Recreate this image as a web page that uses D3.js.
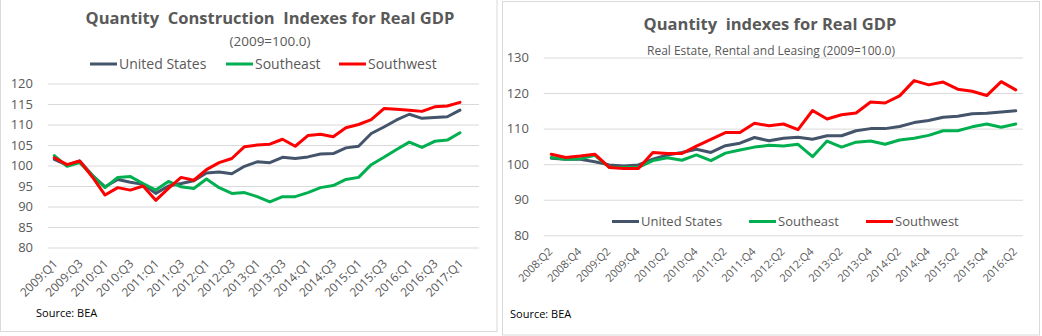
<!DOCTYPE html>
<html lang="en">
<head>
<meta charset="utf-8">
<title>Quantity indexes for Real GDP</title>
<script src="https://d3js.org/d3.v7.min.js"></script>
<style>
  body { margin: 0; background: #fff; }
  svg { font-family: "Open Sans", sans-serif; display: block; }
  .title { white-space: pre; }
</style>
</head>
<body>
<svg id="chart" width="1042" height="336"></svg>
<script>
// ---- data ----
var seriesNames = ["United States", "Southeast", "Southwest"];
var seriesColors = ["#44546A", "#00B050", "#FF0000"];

// left panel: construction, 2009:Q1 .. 2017:Q2 (last category empty)
var constQuarters = ["2009:Q1","2009:Q2","2009:Q3","2009:Q4","2010:Q1","2010:Q2","2010:Q3","2010:Q4",
  "2011:Q1","2011:Q2","2011:Q3","2011:Q4","2012:Q1","2012:Q2","2012:Q3","2012:Q4",
  "2013:Q1","2013:Q2","2013:Q3","2013:Q4","2014:Q1","2014:Q2","2014:Q3","2014:Q4",
  "2015:Q1","2015:Q2","2015:Q3","2015:Q4","2016:Q1","2016:Q2","2016:Q3","2016:Q4",
  "2017:Q1","2017:Q2"];
var constUS = [101.5,100.1,101.1,97.6,94.8,96.6,95.9,95.4,93.2,95.0,95.6,96.3,98.2,98.4,98.0,99.8,
  100.9,100.7,102.0,101.7,102.1,102.8,102.9,104.3,104.7,107.8,109.4,111.1,112.5,111.5,111.7,111.9,113.5];
var constSE = [102.4,99.8,100.7,97.6,94.6,97.1,97.3,95.6,94.0,96.1,94.8,94.4,96.7,94.6,93.2,93.4,
  92.4,91.1,92.4,92.4,93.4,94.6,95.1,96.6,97.1,100.2,102.0,103.9,105.7,104.4,105.9,106.2,108.0];
var constSW = [101.9,100.2,101.1,97.2,92.8,94.6,94.0,95.0,91.5,94.4,97.1,96.4,99.0,100.7,101.7,104.6,
  105.0,105.2,106.4,104.7,107.3,107.6,107.0,109.2,110.0,111.2,113.9,113.7,113.5,113.2,114.3,114.5,115.4];
var constTicks = [80, 85, 90, 95, 100, 105, 110, 115, 120];

// right panel: real estate, rental and leasing, 2008:Q2 .. 2016:Q2
var reQuarters = ["2008:Q2","2008:Q3","2008:Q4","2009:Q1","2009:Q2","2009:Q3","2009:Q4","2010:Q1",
  "2010:Q2","2010:Q3","2010:Q4","2011:Q1","2011:Q2","2011:Q3","2011:Q4","2012:Q1",
  "2012:Q2","2012:Q3","2012:Q4","2013:Q1","2013:Q2","2013:Q3","2013:Q4","2014:Q1",
  "2014:Q2","2014:Q3","2014:Q4","2015:Q1","2015:Q2","2015:Q3","2015:Q4","2016:Q1","2016:Q2"];
var reUS = [101.7,101.4,101.4,100.7,99.8,99.5,99.8,101.4,102.6,103.3,104.2,103.3,105.2,105.9,107.5,106.6,
  107.3,107.6,107.0,108.0,108.0,109.4,110.0,110.0,110.6,111.7,112.3,113.2,113.5,114.2,114.3,114.7,115.0];
var reSE = [101.9,101.4,101.5,102.5,99.1,99.1,99.1,101.0,101.8,101.1,102.6,101.0,103.1,104.0,104.8,105.3,
  105.1,105.6,102.1,106.5,104.8,106.2,106.5,105.6,106.8,107.3,108.1,109.4,109.4,110.5,111.3,110.4,111.3];
var reSW = [102.8,101.9,102.3,102.8,99.1,98.8,98.8,103.3,103.0,103.0,105.1,107.0,108.9,108.9,111.5,110.8,
  111.3,109.7,115.1,112.7,113.9,114.4,117.5,117.2,119.2,123.5,122.3,123.1,121.1,120.5,119.3,123.2,120.9];
var reTicks = [80, 90, 100, 110, 120, 130];

var svg = d3.select("#chart");
var textColor = "#595959";
var gridColor = "#D9D9D9";

// panel frames
svg.append("rect").attr("x", 0.5).attr("y", -2).attr("width", 496.5).attr("height", 333.5)
  .attr("fill", "none").attr("stroke", gridColor);
svg.append("rect").attr("x", 502.5).attr("y", 1.5).attr("width", 537).attr("height", 333.5)
  .attr("fill", "none").attr("stroke", gridColor);

function drawPanel(cfg) {
  var g = svg.append("g");

  var x = d3.scaleBand()
    .domain(cfg.quarters)
    .range([cfg.left, cfg.right])
    .padding(0);

  var y = d3.scaleLinear()
    .domain([cfg.ticks[0], cfg.ticks[cfg.ticks.length - 1]])
    .range([cfg.bottom, cfg.top]);

  // gridlines + y labels
  var yAxis = g.append("g")
    .attr("transform", "translate(" + cfg.left + ",0)")
    .call(d3.axisLeft(y).tickValues(cfg.ticks)
      .tickSizeInner(-(cfg.right - cfg.left)).tickSizeOuter(0).tickPadding(15));
  yAxis.select(".domain").remove();
  yAxis.selectAll("line").attr("stroke", gridColor);
  yAxis.selectAll("text")
    .attr("fill", textColor)
    .style("font-size", "13px")
    .style("font-family", "'Open Sans', sans-serif");

  // x labels, every second quarter, rotated
  var xAxis = g.append("g")
    .attr("transform", "translate(0," + cfg.bottom + ")")
    .call(d3.axisBottom(x)
      .tickValues(cfg.quarters.filter(function (d, i) { return i % 2 == 0; }))
      .tickSize(0));
  xAxis.select(".domain").remove();
  xAxis.selectAll("text")
    .attr("fill", textColor)
    .attr("y", 0).attr("dy", 0)
    .attr("text-anchor", "end")
    .attr("transform", "translate(" + cfg.labelDx + "," + cfg.labelDy + ") rotate(-45)")
    .style("font-size", cfg.labelSize)
    .style("font-family", "'Open Sans', sans-serif");

  // lines
  var line = d3.line()
    .x(function (d, i) { return x(cfg.quarters[i]) + x.bandwidth() / 2; })
    .y(function (d) { return y(d); });

  cfg.series.forEach(function (vals, k) {
    g.append("path")
      .datum(vals)
      .attr("fill", "none")
      .attr("stroke", seriesColors[k])
      .attr("stroke-width", 3)
      .attr("stroke-linejoin", "round")
      .attr("stroke-linecap", "round")
      .attr("d", line);
  });

  // titles
  g.append("text")
    .attr("class", "title")
    .attr("x", cfg.titleX).attr("y", cfg.titleY)
    .attr("text-anchor", "middle")
    .attr("fill", textColor)
    .style("font-size", "16.5px")
    .style("font-weight", "bold")
    .text(cfg.title);
  g.append("text")
    .attr("x", cfg.subX).attr("y", cfg.subY)
    .attr("text-anchor", "middle")
    .attr("fill", textColor)
    .style("font-size", cfg.subSize)
    .text(cfg.subtitle);

  // legend
  seriesNames.forEach(function (name, k) {
    var lx = cfg.legendX[k];
    g.append("line")
      .attr("x1", lx).attr("x2", lx + 27)
      .attr("y1", cfg.legendY).attr("y2", cfg.legendY)
      .attr("stroke", seriesColors[k])
      .attr("stroke-width", 3);
    g.append("text")
      .attr("x", lx + 29).attr("y", cfg.legendY)
      .attr("dy", "0.35em")
      .attr("fill", textColor)
      .style("font-size", cfg.legendSize)
      .text(name);
  });

  // source
  g.append("text")
    .attr("x", cfg.sourceX).attr("y", cfg.sourceY)
    .attr("fill", "#000")
    .style("font-size", "11px")
    .text("Source: BEA");
}

drawPanel({
  quarters: constQuarters,
  series: [constUS, constSE, constSW],
  ticks: constTicks,
  left: 48, right: 479, top: 83.5, bottom: 247.5,
  labelDx: 4, labelDy: 17, labelSize: "12px",
  title: "Quantity  Construction  Indexes for Real GDP",
  titleX: 270, titleY: 24,
  subtitle: "(2009=100.0)", subX: 270, subY: 45.5, subSize: "13.5px",
  legendX: [90, 226, 339], legendY: 64, legendSize: "14px",
  sourceX: 36, sourceY: 317
});

drawPanel({
  quarters: reQuarters,
  series: [reUS, reSE, reSW],
  ticks: reTicks,
  left: 544, right: 1023, top: 57.5, bottom: 235.3,
  labelDx: 2, labelDy: 17, labelSize: "11px",
  title: "Quantity  indexes for Real GDP",
  titleX: 770, titleY: 29.5,
  subtitle: "Real Estate, Rental and Leasing (2009=100.0)", subX: 771, subY: 55, subSize: "12px",
  legendX: [612, 749, 866], legendY: 221.5, legendSize: "13px",
  sourceX: 510, sourceY: 318
});
</script>
</body>
</html>
